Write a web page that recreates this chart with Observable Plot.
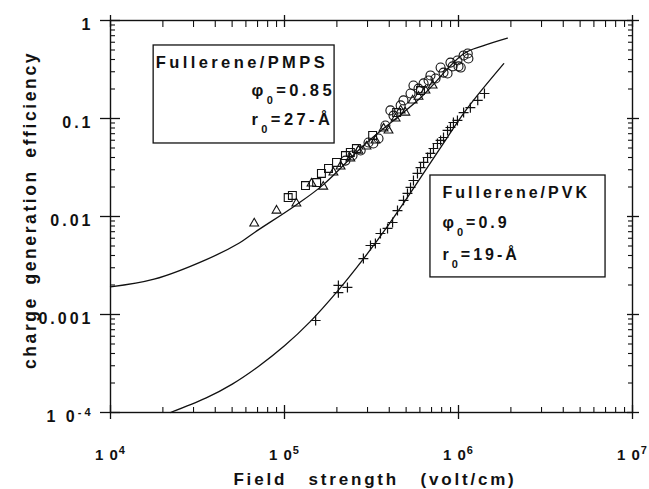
<!DOCTYPE html>
<html><head><meta charset="utf-8">
<script src="https://cdn.jsdelivr.net/npm/d3@7"></script>
<script src="https://cdn.jsdelivr.net/npm/@observablehq/plot@0.6"></script>
<style>
html,body{margin:0;padding:0;background:#fff;}
#chart{width:649px;height:489px;}
</style></head><body><div id="chart"></div>
<script>
// ---- axis ticks / labels ----
const xMajor = [1e4, 1e5, 1e6, 1e7];
const xTickLabels = ["1 0^{4}", "1 0^{5}", "1 0^{6}", "1 0^{7}"];
const yMajor = [1e-4, 1e-3, 1e-2, 1e-1, 1];
const yTickLabels = ["1 0^{-4}", "0.001", "0.01", "0.1", "1"];
const xTitle = "Field strength (volt/cm)";
const yTitle = "charge generation efficiency";

// ---- Fullerene/PMPS data (open symbols) ----
const pmpsTriField = [6.7e4, 9.0e4, 1.17e5, 1.43e5, 1.67e5, 1.91e5, 2.10e5, 2.39e5, 2.66e5, 2.96e5, 3.33e5, 3.71e5, 3.96e5, 4.35e5, 4.65e5, 4.95e5, 5.45e5, 5.89e5, 6.46e5, 7.10e5];
const pmpsTriEff   = [0.0085, 0.0115, 0.0136, 0.0217, 0.0202, 0.0281, 0.0324, 0.0391, 0.0471, 0.0518, 0.0597, 0.0791, 0.0755, 0.100, 0.121, 0.115, 0.153, 0.167, 0.193, 0.217];
const pmpsSqField  = [1.05e5, 1.11e5, 1.32e5, 1.53e5, 1.63e5, 1.79e5, 1.99e5, 2.24e5, 2.39e5, 2.59e5, 3.21e5, 4.41e5, 6.05e5];
const pmpsSqEff    = [0.0156, 0.0164, 0.0207, 0.0222, 0.0275, 0.0309, 0.0356, 0.0419, 0.0450, 0.0494, 0.0671, 0.115, 0.193];
const pmpsCircField = [2.24e5, 2.46e5, 2.74e5, 3.04e5, 3.24e5, 3.47e5, 3.80e5, 4.06e5, 4.23e5, 4.65e5, 4.83e5, 5.30e5, 5.51e5, 5.89e5, 6.30e5, 6.73e5, 6.90e5, 7.38e5, 7.89e5, 8.20e5, 8.65e5, 8.99e5, 9.25e5, 9.86e5, 1.00e6, 1.03e6, 1.07e6, 1.13e6, 1.14e6];
const pmpsCircEff   = [0.0372, 0.0419, 0.0471, 0.0569, 0.0556, 0.0625, 0.0849, 0.121, 0.107, 0.136, 0.153, 0.180, 0.217, 0.202, 0.228, 0.244, 0.275, 0.256, 0.331, 0.294, 0.288, 0.372, 0.340, 0.391, 0.340, 0.331, 0.440, 0.460, 0.409];
// Onsager fit curve, PMPS
const pmpsFitField = [1.0e4, 1.78e4, 3.55e4, 5.50e4, 6.76e4, 1.15e5, 1.66e5, 2.95e5, 6.03e5, 1.07e6, 1.38e6, 1.91e6];
const pmpsFitEff   = [1.91e-3, 2.29e-3, 3.63e-3, 5.37e-3, 6.92e-3, 0.0129, 0.0209, 0.0562, 0.162, 0.457, 0.550, 0.660];

// ---- Fullerene/PVK data (crosses) ----
const pvkField = [1.51e5, 2.04e5, 2.04e5, 2.30e5, 2.84e5, 3.12e5, 3.33e5, 3.56e5, 3.91e5, 4.18e5, 4.46e5, 4.83e5, 5.09e5, 5.30e5, 5.51e5, 5.81e5, 6.05e5, 6.30e5, 6.64e5, 6.90e5, 7.18e5, 7.57e5, 7.89e5, 8.20e5, 8.65e5, 8.99e5, 9.35e5, 9.86e5, 1.07e6, 1.17e6, 1.29e6, 1.41e6];
const pvkEff   = [8.69e-4, 1.98e-3, 1.67e-3, 1.89e-3, 3.72e-3, 5.06e-3, 5.30e-3, 6.71e-3, 7.55e-3, 8.69e-3, 0.0115, 0.0146, 0.0172, 0.0198, 0.0233, 0.0275, 0.0316, 0.0356, 0.0400, 0.0440, 0.0494, 0.0556, 0.0597, 0.0640, 0.0755, 0.0809, 0.0910, 0.0955, 0.115, 0.129, 0.153, 0.180];
const pvkFitField = [2.21e4, 3.55e4, 5.01e4, 7.08e4, 1.0e5, 1.41e5, 2.0e5, 2.82e5, 3.98e5, 5.62e5, 7.94e5, 1.12e6, 1.82e6];
const pvkFitEff   = [1.0e-4, 1.41e-4, 1.95e-4, 2.95e-4, 4.79e-4, 8.51e-4, 1.70e-3, 3.63e-3, 8.32e-3, 0.0204, 0.0513, 0.126, 0.363];

// ---- annotation boxes ----
const boxX1 = [1.77e4, 6.9e5];
const boxX2 = [1.94e5, 7.0e6];
const boxY1 = [0.556, 0.0262];
const boxY2 = [0.0556, 0.00239];
const noteText = ["Fullerene/PMPS", "φ_{0}=0.85", "r_{0}=27-Å", "Fullerene/PVK", "φ_{0}=0.9", "r_{0}=19-Å"];
const noteX = [1.82e4, 6.46e4, 6.46e4, 8.09e5, 8.09e5, 8.09e5];
const noteY = [0.331, 0.168, 0.0849, 0.0153, 0.00755, 0.00356];
const noteBox = [0, 0, 0, 1, 1, 1];

// ---- build tables ----
const zip = (xs, ys) => xs.map((x, i) => ({x, y: ys[i]}));
const pmpsTri = zip(pmpsTriField, pmpsTriEff);
const pmpsSq = zip(pmpsSqField, pmpsSqEff);
const pmpsCirc = zip(pmpsCircField, pmpsCircEff);
const pmpsFit = zip(pmpsFitField, pmpsFitEff);
const pvk = zip(pvkField, pvkEff);
const pvkFit = zip(pvkFitField, pvkFitEff);
const boxes = boxX1.map((x1, i) => ({x1, x2: boxX2[i], y1: boxY1[i], y2: boxY2[i]}));
const notes = noteText.map((t, i) => ({t, x: noteX[i], y: noteY[i], b: noteBox[i]}));

const minor = (lo, hi) => { const r = []; for (let e = lo; e < hi; e++) for (let k = 2; k <= 9; k++) r.push(k * Math.pow(10, e)); return r; };
const xMinor = minor(4, 7);
const yMinor = minor(-4, 0);

const W = 649, H = 489;
const M = {top: 20, right: 17, bottom: 77, left: 110};
const ink = "#111";

const fmtX = d => xTickLabels[xMajor.indexOf(d)];
const fmtY = d => yTickLabels[yMajor.findIndex(v => Math.abs(Math.log10(v) - Math.log10(d)) < 1e-6)];
const blank = () => "";

const chart = Plot.plot({
  width: W, height: H,
  marginTop: M.top, marginRight: M.right, marginBottom: M.bottom, marginLeft: M.left,
  x: {type: "log", domain: [1e4, 1e7]},
  y: {type: "log", domain: [1e-4, 1]},
  style: {fontFamily: "'Liberation Sans', Arial, sans-serif", background: "#fff", color: ink, overflow: "visible"},
  marks: [
    // boxes
    Plot.rect(boxes, {x1: "x1", x2: "x2", y1: "y1", y2: "y2", fill: "#fff", stroke: ink, strokeWidth: 1.3}),
    // frame
    Plot.frame({stroke: ink, strokeWidth: 1.4}),
    // bottom axis
    Plot.axisX({anchor: "bottom", ticks: xMajor, tickSize: 14, dy: -7, tickFormat: blank, label: null, strokeWidth: 1.3}),
    Plot.axisX({anchor: "bottom", ticks: xMinor, tickSize: 5, dy: -5, tickFormat: blank, label: null, strokeWidth: 1.1}),
    Plot.axisX({anchor: "bottom", ticks: xMajor, tickSize: 0, tickPadding: 37, tickFormat: fmtX, label: null, fontSize: 15, fontWeight: "bold"}),
    // top axis
    Plot.axisX({anchor: "top", ticks: xMajor, tickSize: 12, dy: 6, tickFormat: blank, label: null, strokeWidth: 1.3}),
    Plot.axisX({anchor: "top", ticks: xMinor, tickSize: 6, dy: 6, tickFormat: blank, label: null, strokeWidth: 1.1}),
    // left axis
    Plot.axisY({anchor: "left", ticks: yMajor, tickSize: 20, dx: 10, tickFormat: blank, label: null, strokeWidth: 1.3}),
    Plot.axisY({anchor: "left", ticks: yMinor, tickSize: 5, dx: 5, tickFormat: blank, label: null, strokeWidth: 1.1}),
    Plot.axisY({anchor: "left", ticks: yMajor, tickSize: 0, tickPadding: 17, dy: 4, tickFormat: fmtY, label: null, fontSize: 16, fontWeight: "bold"}),
    // right axis
    Plot.axisY({anchor: "right", ticks: yMajor, tickSize: 12, dx: -6, tickFormat: blank, label: null, strokeWidth: 1.3}),
    Plot.axisY({anchor: "right", ticks: yMinor, tickSize: 5, dx: -5, tickFormat: blank, label: null, strokeWidth: 1.1}),
    // fit curves
    Plot.line(pmpsFit, {x: "x", y: "y", curve: "catmull-rom", stroke: ink, strokeWidth: 1.3}),
    Plot.line(pvkFit, {x: "x", y: "y", curve: "catmull-rom", stroke: ink, strokeWidth: 1.3}),
    // data
    Plot.dot(pmpsSq, {x: "x", y: "y", symbol: "square2", r: 5, stroke: ink, fill: "none", strokeWidth: 1.1}),
    Plot.dot(pmpsTri, {x: "x", y: "y", symbol: "triangle2", r: 4.2, stroke: ink, fill: "none", strokeWidth: 1.1}),
    Plot.dot(pmpsCirc, {x: "x", y: "y", symbol: "circle", r: 4.5, stroke: ink, fill: "none", strokeWidth: 1.1}),
    Plot.dot(pvk, {x: "x", y: "y", symbol: "plus", r: 3.3, stroke: ink, strokeWidth: 1.2}),
    // annotation text
    Plot.text(notes, {x: "x", y: "y", text: "t", textAnchor: "start", lineAnchor: "bottom", fill: ink, fontSize: 16, fontWeight: "bold"})
  ]
});

document.getElementById("chart").appendChild(chart);

// rich text: ^{..} superscript, _{..} subscript
function richify(el, supShift, subShift, small) {
  const s = el.textContent;
  if (!/[\^_]\{/.test(s)) return;
  while (el.firstChild) el.removeChild(el.firstChild);
  const re = /([\^_])\{([^}]*)\}/g;
  let last = 0, m, shift = 0;
  const add = (txt, dy, size) => {
    const t = document.createElementNS("http://www.w3.org/2000/svg", "tspan");
    t.textContent = txt;
    if (dy) t.setAttribute("dy", dy);
    if (size) t.setAttribute("font-size", size);
    el.appendChild(t);
  };
  while ((m = re.exec(s))) {
    if (m.index > last) { add(s.slice(last, m.index), -shift); shift = 0; }
    const d = m[1] === "^" ? -supShift : subShift;
    add(m[2], d - shift, small); shift = d;
    last = re.lastIndex;
  }
  if (last < s.length) add(s.slice(last), -shift);
}

d3.select(chart).selectAll("text").each(function () {
  const s = this.textContent;
  const i = noteText.indexOf(s);
  if (xTickLabels.includes(s)) {
    this.setAttribute("font-size", 15); this.setAttribute("font-weight", "bold");
    this.style.letterSpacing = "1px";
    richify(this, 6, 0, 11);
  } else if (yTickLabels.includes(s)) {
    this.setAttribute("font-size", 16); this.setAttribute("font-weight", "bold");
    this.style.letterSpacing = "3px";
    richify(this, 6, 0, 11);
  } else if (i >= 0) {
    const big = noteBox[i] === 0;
    this.setAttribute("font-size", big ? 16.5 : 16); this.setAttribute("font-weight", "bold");
    this.style.letterSpacing = big ? "3.4px" : "3px";
    richify(this, 6, 7.5, 11);
  }
});

// axis titles
const titles = d3.select(chart).append("g").attr("fill", ink).attr("font-weight", "bold")
  .attr("font-family", "'Liberation Sans', Arial, sans-serif");
const cx = M.left + (W - M.left - M.right) / 2;
const cy = M.top + (H - M.top - M.bottom) / 2;
titles.append("text").attr("x", cx + 4).attr("y", H - 4).attr("text-anchor", "middle")
  .attr("font-size", 17).style("letter-spacing", "2.8px").style("word-spacing", "14px").text(xTitle);
titles.append("text").attr("transform", `translate(36,${cy - 6}) rotate(-90)`).attr("text-anchor", "middle")
  .attr("font-size", 17.5).style("letter-spacing", "2.6px").style("word-spacing", "4px").text(yTitle);
</script>
</body></html>
